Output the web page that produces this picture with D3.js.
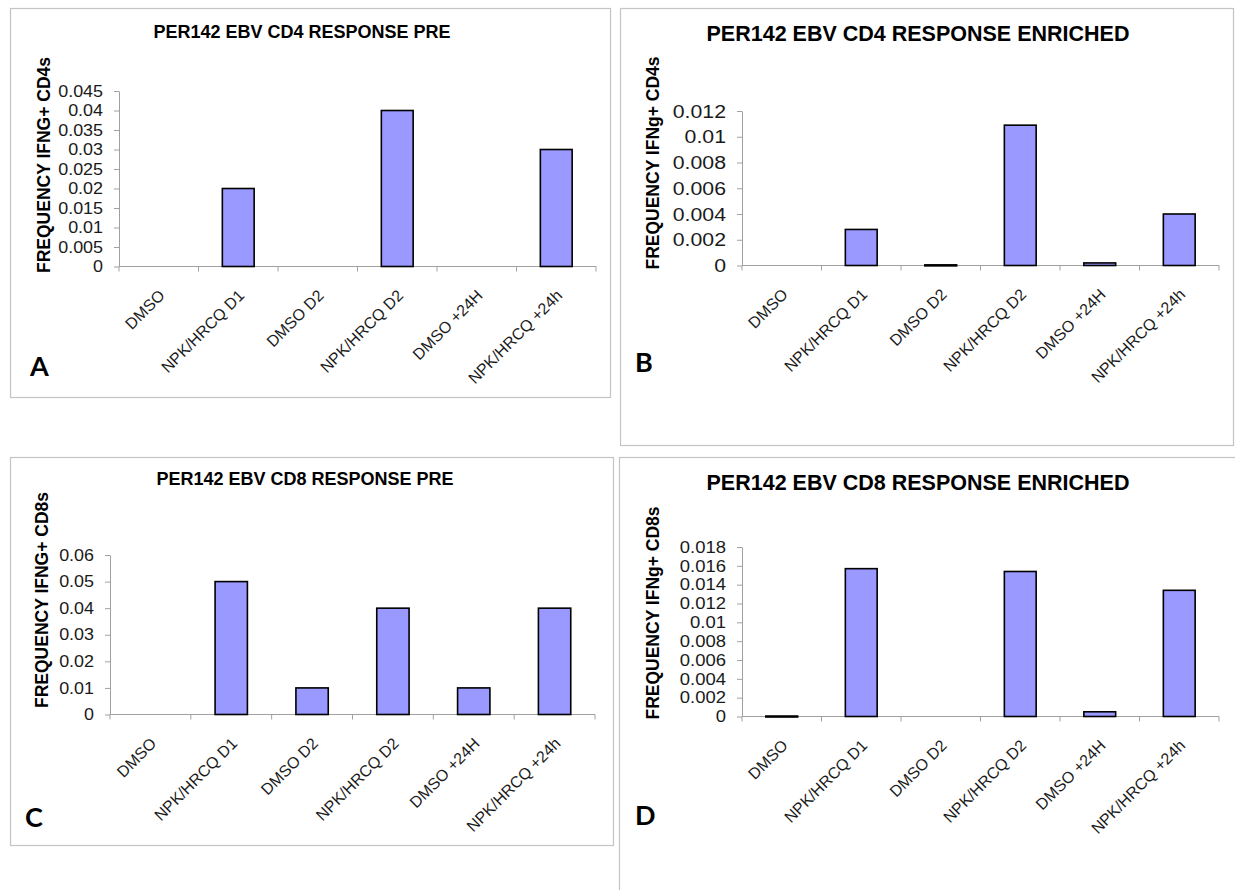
<!DOCTYPE html>
<html>
<head>
<meta charset="utf-8">
<script src="https://cdn.jsdelivr.net/npm/d3@7"></script>
<style>
  html, body { margin: 0; padding: 0; background: #fff; }
  svg { display: block; }
  text { font-family: "Liberation Sans", Arial, sans-serif; }
</style>
</head>
<body>
<div id="chart"></div>
<script>
// categories shared by all four panels
const categories = ["DMSO", "NPK/HRCQ D1", "DMSO D2", "NPK/HRCQ D2", "DMSO +24H", "NPK/HRCQ +24h"];

// values
const cd4PreValues = [0, 0.02, 0, 0.04, 0, 0.03];
const cd4EnrichedValues = [0, 0.0028, 0.00005, 0.0109, 0.0002, 0.004];
const cd8PreValues = [0, 0.05, 0.01, 0.04, 0.01, 0.04];
const cd8EnrichedValues = [0.00005, 0.0157, 0, 0.0154, 0.0005, 0.0134];

// y tick labels
const cd4PreTicks = ["0", "0.005", "0.01", "0.015", "0.02", "0.025", "0.03", "0.035", "0.04", "0.045"];
const cd4EnrichedTicks = ["0", "0.002", "0.004", "0.006", "0.008", "0.01", "0.012"];
const cd8PreTicks = ["0", "0.01", "0.02", "0.03", "0.04", "0.05", "0.06"];
const cd8EnrichedTicks = ["0", "0.002", "0.004", "0.006", "0.008", "0.01", "0.012", "0.014", "0.016", "0.018"];

const titles = [
  "PER142 EBV CD4 RESPONSE PRE",
  "PER142 EBV CD4 RESPONSE ENRICHED",
  "PER142 EBV CD8 RESPONSE PRE",
  "PER142 EBV CD8 RESPONSE ENRICHED"
];
const yLabels = ["FREQUENCY IFNG+ CD4s", "FREQUENCY IFNg+ CD4s", "FREQUENCY IFNG+ CD8s", "FREQUENCY IFNg+ CD8s"];
const letters = ["A", "B", "C", "D"];

const width = 1235, height = 890;

// layout of each panel (pixels)
const panels = [
  { values: cd4PreValues, ticks: cd4PreTicks, tickSize: 16,
    box: [10.5, 8.5, 610.5, 397.5], left: 119, right: 596, zero: 266.5, top: 91,
    titleX: 302, titleY: 38, titleSize: 18, yLabX: 50, yLabY: 165, letX: 30, letY: 376 },
  { values: cd4EnrichedValues, ticks: cd4EnrichedTicks, tickSize: 19,
    box: [620.5, 8.5, 1233.5, 445.5], left: 742, right: 1219, zero: 265.5, top: 111,
    titleX: 918, titleY: 41, titleSize: 21.5, yLabX: 659, yLabY: 163, letX: 635, letY: 372 },
  { values: cd8PreValues, ticks: cd8PreTicks, tickSize: 16,
    box: [10.5, 457.5, 613.5, 845.5], left: 110, right: 595, zero: 714.5, top: 555,
    titleX: 305, titleY: 485, titleSize: 18, yLabX: 48, yLabY: 600, letX: 25, letY: 827 },
  { values: cd8EnrichedValues, ticks: cd8EnrichedTicks, tickSize: 16.5,
    box: [619.5, 457.5, 1240, 900], left: 742, right: 1219, zero: 716.5, top: 547,
    titleX: 918, titleY: 490, titleSize: 21.5, yLabX: 659, yLabY: 613, letX: 635, letY: 825 }
];

const svg = d3.select("#chart").append("svg")
  .attr("width", width)
  .attr("height", height);

panels.forEach((p, i) => {
  const g = svg.append("g");

  // panel frame
  g.append("rect")
    .attr("x", p.box[0]).attr("y", p.box[1])
    .attr("width", p.box[2] - p.box[0]).attr("height", p.box[3] - p.box[1])
    .attr("fill", "none")
    .attr("stroke", "#c4c4c4")
    .attr("stroke-width", 1.2);

  const tickVals = p.ticks.map(Number);
  const yMax = d3.max(tickVals);
  const rows = categories.map((c, k) => ({ cat: c, v: p.values[k] }));

  const x = d3.scaleBand()
    .domain(categories)
    .range([p.left, p.right])
    .paddingInner(0.6)
    .paddingOuter(0.3);

  const y = d3.scaleLinear()
    .domain([0, yMax])
    .range([p.zero, p.top]);

  // y axis
  const yAxis = g.append("g")
    .attr("transform", "translate(" + p.left + ",0)")
    .call(d3.axisLeft(y)
      .tickValues(tickVals)
      .tickFormat((d, k) => p.ticks[k])
      .tickSizeInner(5)
      .tickSizeOuter(0)
      .tickPadding(5));
  yAxis.select(".domain").attr("stroke", "#a0a0a0");
  yAxis.selectAll(".tick line").attr("stroke", "#a0a0a0");
  // slight horizontal stretch, like the source image
  yAxis.selectAll(".tick text")
    .attr("fill", "#1a1a1a")
    .attr("x", null)
    .attr("transform", "translate(-16,0) scale(1.12,1)")
    .style("font-size", p.tickSize + "px")
    .style("font-family", "'Liberation Sans', Arial, sans-serif");

  // x axis with ticks between categories
  const step = x.step();
  const xAxis = g.append("g");
  xAxis.append("line")
    .attr("x1", p.left).attr("x2", p.right)
    .attr("y1", p.zero).attr("y2", p.zero)
    .attr("stroke", "#a0a0a0");
  xAxis.selectAll("line.tk")
    .data(d3.range(categories.length + 1))
    .join("line")
    .attr("class", "tk")
    .attr("x1", k => p.left + k * step).attr("x2", k => p.left + k * step)
    .attr("y1", p.zero).attr("y2", p.zero + 5)
    .attr("stroke", "#a0a0a0");

  // bars (zero values are not drawn)
  g.selectAll("rect.bar")
    .data(rows.filter(d => d.v > 0))
    .join("rect")
    .attr("class", "bar")
    .attr("x", d => x(d.cat))
    .attr("y", d => y(d.v))
    .attr("width", x.bandwidth())
    .attr("height", d => Math.max(p.zero - y(d.v), 1))
    .attr("fill", "#9999ff")
    .attr("stroke", "#000")
    .attr("stroke-width", 1.6);

  // category labels, rotated
  g.selectAll("text.cat")
    .data(categories)
    .join("text")
    .attr("class", "cat")
    .attr("text-anchor", "end")
    .attr("transform", d => "translate(" + (x(d) + x.bandwidth() / 2 + 7) + "," + (p.zero + 30) + ") rotate(-45)")
    .attr("fill", "#1a1a1a")
    .style("font-size", "16px")
    .text(d => d);

  // title
  g.append("text")
    .attr("x", p.titleX).attr("y", p.titleY)
    .attr("text-anchor", "middle")
    .style("font-weight", "bold")
    .style("font-size", p.titleSize + "px")
    .text(titles[i]);

  // y label
  g.append("text")
    .attr("transform", "translate(" + p.yLabX + "," + p.yLabY + ") rotate(-90)")
    .attr("text-anchor", "middle")
    .style("font-weight", "bold")
    .style("font-size", "17.5px")
    .text(yLabels[i]);

  // panel letter
  g.append("text")
    .attr("x", p.letX).attr("y", p.letY)
    .style("font-family", "Lato, 'Open Sans', sans-serif")
    .style("font-weight", "bold")
    .style("font-size", "27px")
    .text(letters[i]);
});
</script>
</body>
</html>
